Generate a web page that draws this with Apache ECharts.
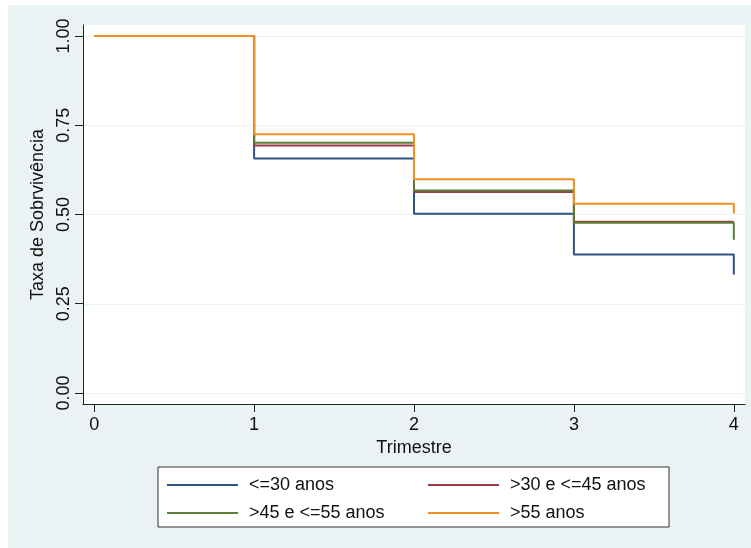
<!DOCTYPE html>
<html>
<head>
<meta charset="utf-8">
<script src="https://cdn.jsdelivr.net/npm/echarts@6/dist/echarts.min.js"></script>
<style>
html,body{margin:0;padding:0;background:#fff;}
#c{position:absolute;left:8px;top:5px;width:743px;height:543px;}
</style>
</head>
<body>
<div id="c"></div>
<script>
// Data
const quarters = [0, 1, 2, 3, 4];
const seriesNames = ['<=30 anos', '>30 e <=45 anos', '>45 e <=55 anos', '>55 anos'];
const s30 = [1.00, 0.657, 0.502, 0.388, 0.332];
const s30_45 = [1.00, 0.693, 0.563, 0.480, 0.480];
const s45_55 = [1.00, 0.701, 0.567, 0.477, 0.429];
const s55 = [1.00, 0.725, 0.599, 0.530, 0.503];
const xTicks = [0, 1, 2, 3, 4];
const yTicks = [0, 0.25, 0.5, 0.75, 1.0];

const colors = ['#2e5486', '#9b3c44', '#5b7d34', '#ef8f25'];
const FONT = '"Liberation Sans", Arial, Helvetica, sans-serif';
const allSeries = [s30, s30_45, s45_55, s55];

const chart = echarts.init(document.getElementById('c'));
const series = allSeries.map((vals, i) => ({
  name: seriesNames[i],
  type: 'line',
  step: 'end',
  showSymbol: false,
  symbol: 'none',
  xAxisIndex: 0,
  yAxisIndex: 0,
  data: quarters.map((q, j) => [q, vals[j]]),
  lineStyle: { width: 2, color: colors[i] },
  itemStyle: { color: colors[i] },
  animation: false,
  z: 5
}));

const legendWidths = [169, 150, 169, 150];

chart.setOption({
  backgroundColor: '#eaf2f3',
  animation: false,
  textStyle: { fontFamily: FONT },
  grid: [
    {
      left: 75, right: 6, top: 20, bottom: 144,
      show: true, backgroundColor: '#ffffff', borderWidth: 0,
      containLabel: false, z: 0
    },
    {
      left: 75, right: 6, top: 31, bottom: 155,
      show: false, containLabel: false, z: 0
    }
  ],
  xAxis: [
    {
      type: 'value', gridIndex: 0,
      min: -0.07, max: 4.07,
      name: 'Trimestre',
      nameLocation: 'middle',
      nameGap: 32,
      nameTextStyle: { fontSize: 18, color: '#111', fontFamily: FONT },
      axisLine: { show: true, onZero: false, lineStyle: { color: '#222', width: 1 } },
      axisTick: { show: true, length: 8, customValues: xTicks, lineStyle: { color: '#222' } },
      axisLabel: { customValues: xTicks, fontSize: 18, color: '#111', margin: 12, fontFamily: FONT },
      splitLine: { show: false },
      z: 2
    },
    {
      type: 'value', gridIndex: 1, min: 0, max: 4, show: false,
      splitLine: { show: false }
    }
  ],
  yAxis: [
    {
      type: 'value', gridIndex: 0,
      min: -0.031, max: 1.031,
      name: 'Taxa de Sobrvivência',
      nameLocation: 'middle',
      nameGap: 31,
      nameTextStyle: { fontSize: 18, color: '#111', fontFamily: FONT },
      axisLine: { show: true, onZero: false, lineStyle: { color: '#222', width: 1 } },
      axisTick: { show: true, length: 8, customValues: yTicks, lineStyle: { color: '#222' } },
      axisLabel: {
        customValues: yTicks, rotate: 90, fontSize: 18, color: '#111', margin: 10, fontFamily: FONT,
        formatter: v => v.toFixed(2)
      },
      splitLine: { show: false },
      z: 2
    },
    {
      type: 'value', gridIndex: 1, min: 0, max: 1, interval: 0.25,
      axisLine: { show: false }, axisTick: { show: false }, axisLabel: { show: false },
      splitLine: { show: true, lineStyle: { color: '#eaf2f3', width: 1 } },
      z: 1
    }
  ],
  legend: {
    left: 150, top: 462,
    orient: 'horizontal',
    width: 495,
    padding: [9, 9, 5, 9],
    itemGap: 10,
    itemWidth: 71,
    itemHeight: 2,
    icon: 'rect',
    backgroundColor: '#ffffff',
    borderColor: '#333',
    borderWidth: 1,
    borderRadius: 0,
    textStyle: { fontSize: 18, color: '#111', lineHeight: 18, padding: [0, 0, 0, 6], fontFamily: FONT },
    data: seriesNames.map((n, i) => ({ name: n, textStyle: { width: legendWidths[i] } }))
  },
  series: series
});
</script>
</body>
</html>
